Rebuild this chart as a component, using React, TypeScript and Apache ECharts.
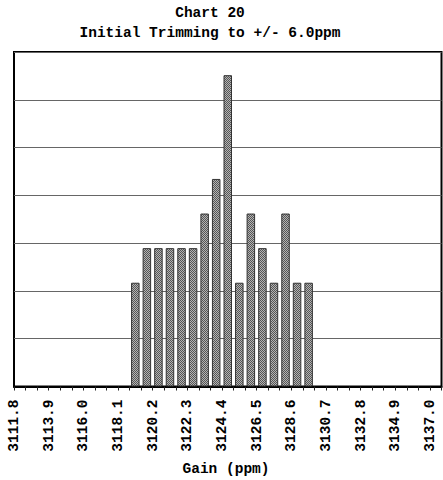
import React, { useEffect, useRef } from "react";
import * as echarts from "echarts";

const titleLine1 = "Chart 20";
const titleLine2 = "Initial Trimming to +/- 6.0ppm";
const xAxisName = "Gain (ppm)";

// histogram bins (lower edges, ppm) and bin width
const axisMin = 3111.8;
const axisMax = 3137.7;
const binWidth = 0.7;
const tickLabels = [
  3111.8, 3113.9, 3116.0, 3118.1, 3120.2, 3122.3, 3124.4,
  3126.5, 3128.6, 3130.7, 3132.8, 3134.9, 3137.0,
];
const binStarts = [
  3118.8, 3119.5, 3120.2, 3120.9, 3121.6, 3122.3, 3123.0, 3123.7,
  3124.4, 3125.1, 3125.8, 3126.5, 3127.2, 3127.9, 3128.6, 3129.3,
];
const counts = [3, 4, 4, 4, 4, 4, 5, 6, 9, 3, 5, 4, 3, 5, 3, 3];

const yMax = 9.67;
const yDivisions = 7;

const FONT = '"Liberation Mono", "Courier New", monospace';

function makePattern() {
  const c = document.createElement("canvas");
  c.width = 2;
  c.height = 2;
  const ctx = c.getContext("2d")!;
  ctx.fillStyle = "#b4b4b4";
  ctx.fillRect(0, 0, 2, 2);
  ctx.fillStyle = "#555555";
  ctx.fillRect(0, 0, 1, 1);
  ctx.fillRect(1, 1, 1, 1);
  return c;
}

export default function App() {
  const ref = useRef<HTMLDivElement>(null);
  useEffect(() => {
    if (!ref.current) return;
    const chart = echarts.init(ref.current, undefined, { renderer: "svg" });
    const edges: number[] = [];
    const n = Math.round((axisMax - axisMin) / binWidth);
    for (let i = 0; i <= n; i++) edges.push(+(axisMin + i * binWidth).toFixed(2));
    const pattern = makePattern();
    chart.setOption({
      animation: false,
      backgroundColor: "#ffffff",
      grid: {
        left: 14,
        top: 52,
        width: 427.5,
        height: 334.5,
        show: true,
        borderColor: "#000",
        borderWidth: 2,
        containLabel: false,
      },
      graphic: [
        {
          type: "text",
          x: 210,
          y: 13,
          style: {
            text: titleLine1,
            font: `bold 14.5px ${FONT}`,
            fill: "#000",
            textAlign: "center",
            textVerticalAlign: "middle",
          },
        },
        {
          type: "text",
          x: 210,
          y: 33,
          style: {
            text: titleLine2,
            font: `bold 14.5px ${FONT}`,
            fill: "#000",
            textAlign: "center",
            textVerticalAlign: "middle",
          },
        },
        {
          type: "text",
          x: 226,
          y: 469,
          style: {
            text: xAxisName,
            font: `bold 14.5px ${FONT}`,
            fill: "#000",
            textAlign: "center",
            textVerticalAlign: "middle",
          },
        },
      ],
      xAxis: {
        type: "value",
        min: axisMin,
        max: axisMax,
        axisLine: { show: true, lineStyle: { color: "#000", width: 2 } },
        axisTick: {
          show: true,
          customValues: edges,
          length: 4,
          lineStyle: { color: "#222", width: 1 },
        },
        axisLabel: {
          show: true,
          customValues: tickLabels,
          rotate: 90,
          margin: 13,
          color: "#000",
          fontFamily: FONT,
          fontWeight: "bold",
          fontSize: 14.5,
          formatter: (v: number) => v.toFixed(1),
        },
        splitLine: { show: false },
      },
      yAxis: {
        type: "value",
        min: 0,
        max: yMax,
        interval: yMax / yDivisions,
        axisLine: { show: false },
        axisTick: { show: false },
        axisLabel: { show: false },
        splitLine: { show: true, lineStyle: { color: "#666", width: 1 } },
      },
      series: [
        {
          type: "bar",
          barWidth: 8.5,
          data: binStarts.map((b, i) => [b + binWidth / 2, counts[i]]),
          itemStyle: {
            color: { image: pattern, repeat: "repeat" },
            borderColor: "#333",
            borderWidth: 1,
          },
        },
      ],
    });
    return () => chart.dispose();
  }, []);
  return (
    <div
      ref={ref}
      style={{ position: "fixed", left: 0, top: 0, width: 443, height: 480, background: "#fff" }}
    />
  );
}
